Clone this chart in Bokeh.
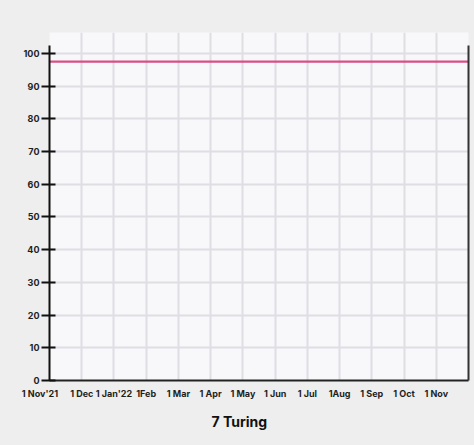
from bokeh.plotting import figure
from bokeh.models import Range1d, FixedTicker, LinearAxis, Title
from bokeh.embed import file_html
from bokeh.resources import INLINE

# months from 1 Nov'21 to 1 Dec'22 (index 0..13)
month_idx = list(range(14))
tick_labels = ["1 Nov'21", "1 Dec", "1 Jan'22", "1Feb", "1 Mar", "1 Apr", "1 May",
               "1 Jun", "1 Jul", "1Aug", "1 Sep", "1 Oct", "1 Nov"]
line_vals = [97.5] * 14
y_ticks = [0, 10, 20, 30, 40, 50, 60, 70, 80, 90, 100]

FONT = "Inter"
BG = "#eeeeee"

p = figure(frame_width=419, frame_height=348, output_backend="svg", toolbar_location=None,
           x_range=Range1d(0, 13), y_range=Range1d(0, 106.4),
           min_border_left=49, min_border_right=6, min_border_top=32, min_border_bottom=10)
p.background_fill_color = "#f8f8fb"
p.border_fill_color = BG
p.outline_line_color = None

p.line(month_idx, line_vals, line_color="#d94f85", line_width=2.2)

# grid
p.xgrid.ticker = FixedTicker(ticks=month_idx)
p.ygrid.ticker = FixedTicker(ticks=y_ticks)
for g in (p.xgrid, p.ygrid):
    g.grid_line_color = "#dedee3"
    g.grid_line_width = 2

# x axis (first label sits left of the axis in the original, pad it with nbsp)
labels = {i: t for i, t in enumerate(tick_labels)}
labels[0] = tick_labels[0] + "\u00a0" * 9
xa = p.xaxis[0]
xa.ticker = FixedTicker(ticks=list(range(len(tick_labels))))
xa.major_label_overrides = labels
xa.major_tick_line_color = None
xa.major_tick_out = 0
xa.major_tick_in = 0
xa.minor_tick_line_color = None
xa.axis_line_color = "#222222"
xa.axis_line_width = 2
xa.major_label_standoff = 7
xa.major_label_text_font = FONT
xa.major_label_text_font_style = "bold"
xa.major_label_text_font_size = "9px"
xa.major_label_text_color = "#1e1e1e"

# y axis
ya = p.yaxis[0]
ya.bounds = (0, 102.5)
ya.ticker = FixedTicker(ticks=y_ticks)
ya.minor_tick_line_color = None
ya.major_tick_out = 8
ya.major_tick_in = 6
ya.major_tick_line_width = 2
ya.major_tick_line_color = "#111111"
ya.axis_line_color = "#111111"
ya.axis_line_width = 2
ya.major_label_standoff = 2
ya.major_label_text_font = FONT
ya.major_label_text_font_style = "bold"
ya.major_label_text_font_size = "9px"
ya.major_label_text_color = "#1e1e1e"

# right edge line
ra = LinearAxis(bounds=(0, 102.5), ticker=FixedTicker(ticks=[]),
                axis_line_color="#333333", axis_line_width=2,
                major_tick_line_color=None, minor_tick_line_color=None,
                major_label_text_font_size="0px")
p.add_layout(ra, "right")

# brand mark
brand = Title(text="7 Turing", align="left", offset=162, text_font=FONT,
              text_font_style="bold", text_font_size="14px", text_color="#111111",
              standoff=19)
p.add_layout(brand, "below")

template = """
{% block postamble %}
<style>body { background: #eeeeee; }</style>
{% endblock %}
"""

open("out.html", "w").write(file_html(p, INLINE, template=template))
